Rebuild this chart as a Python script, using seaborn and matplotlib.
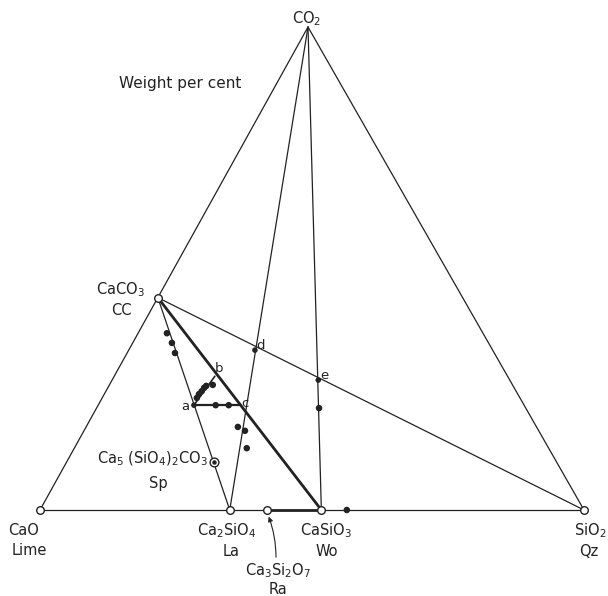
import numpy as np
import pandas as pd
import matplotlib
matplotlib.use("Agg")
import matplotlib.pyplot as plt
import seaborn as sns

# compositions in weight per cent: (CaO, SiO2, CO2)
phase_names = ["CaO", "SiO2", "CaCO3", "Ca2SiO4", "CaSiO3", "Ca3Si2O7"]
phase_cao = [100.0, 0.0, 56.03, 65.12, 48.28, 58.33]
phase_sio2 = [0.0, 100.0, 0.0, 34.88, 51.72, 41.67]
phase_co2 = [0.0, 0.0, 43.97, 0.0, 0.0, 0.0]

spurrite = (63.07, 27.03, 9.90)
co2_apex = (0.0, 0.0, 100.0)

# points a, b, c, d, e
pt_names = ["a", "b", "c", "d", "e"]
pt_cao = [60.7, 53.8, 52.1, 43.7, 35.2]
pt_sio2 = [17.6, 18.5, 26.2, 23.2, 37.9]
pt_co2 = [21.7, 27.7, 21.7, 33.1, 26.9]

# analysed compositions (filled dots)
dot_cao = [59.4, 58.6, 57.8, 57.0, 56.4, 55.1, 56.7, 54.3, 54.9, 54.0, 55.5,
           58.1, 58.2, 58.7, 38.0, 43.6]
dot_sio2 = [17.4, 17.4, 17.6, 17.7, 17.9, 19.0, 21.6, 24.0, 27.9, 29.6, 31.7,
            5.3, 7.2, 8.8, 40.9, 56.4]
dot_co2 = [23.2, 24.0, 24.6, 25.3, 25.7, 25.9, 21.7, 21.7, 17.2, 16.4, 12.8,
           36.6, 34.6, 32.5, 21.1, 0.0]

# corners of the triangle on the page
V_CAO = np.array([40.0, 510.0])
V_SIO2 = np.array([584.0, 510.0])
V_CO2 = np.array([308.0, 27.0])


def tern(cao, sio2, co2):
    cao, sio2, co2 = (np.asarray(v, dtype=float) for v in (cao, sio2, co2))
    tot = cao + sio2 + co2
    xy = (np.multiply.outer(cao / tot, V_CAO) + np.multiply.outer(sio2 / tot, V_SIO2)
          + np.multiply.outer(co2 / tot, V_CO2))
    return xy[..., 0], xy[..., 1]


sns.set_style("white")
plt.rcParams['font.family'] = ['DejaVu Sans']
plt.rcParams['mathtext.default'] = 'regular'

fig = plt.figure(figsize=(6.08, 5.96), dpi=100)
ax = fig.add_axes([0, 0, 1, 1])
ax.set_xlim(0, 608)
ax.set_ylim(596, 0)
ax.axis("off")

ph = pd.DataFrame({"name": phase_names, "cao": phase_cao,
                   "sio2": phase_sio2, "co2": phase_co2}).set_index("name")
pt = pd.DataFrame({"name": pt_names, "cao": pt_cao,
                   "sio2": pt_sio2, "co2": pt_co2}).set_index("name")


def comp(df, key):
    return tuple(df.loc[key, ["cao", "sio2", "co2"]])


def seg(p, q, lw=0.9, zorder=1):
    x, y = tern([p[0], q[0]], [p[1], q[1]], [p[2], q[2]])
    ax.plot(x, y, color="#222222", lw=lw, solid_capstyle="round", zorder=zorder)


# outline
seg(comp(ph, "CaO"), comp(ph, "SiO2"))
seg(comp(ph, "CaO"), co2_apex)
seg(comp(ph, "SiO2"), co2_apex)
# tie lines
seg(comp(ph, "CaCO3"), comp(ph, "SiO2"))
seg(co2_apex, comp(ph, "Ca2SiO4"))
seg(co2_apex, comp(ph, "CaSiO3"))
seg(comp(ph, "CaCO3"), comp(ph, "Ca2SiO4"))
seg(comp(ph, "CaCO3"), comp(ph, "CaSiO3"), lw=2.0)
seg(comp(ph, "Ca3Si2O7"), comp(ph, "CaSiO3"), lw=2.0)
seg(comp(pt, "a"), comp(pt, "c"), lw=1.6)
seg(comp(pt, "a"), comp(pt, "b"), lw=1.2)

# filled dots
dx, dy = tern(dot_cao, dot_sio2, dot_co2)
sns.scatterplot(x=dx, y=dy, ax=ax, s=22, color="#222222", edgecolor="none",
                zorder=3, legend=False)
sel = ["a", "d", "e"]
px, py = tern(pt.loc[sel, "cao"], pt.loc[sel, "sio2"], pt.loc[sel, "co2"])
sns.scatterplot(x=px, y=py, ax=ax, s=16, color="#222222", edgecolor="none",
                zorder=3, legend=False)

# phases (open circles)
hx, hy = tern(ph["cao"], ph["sio2"], ph["co2"])
sns.scatterplot(x=hx, y=hy, ax=ax, s=30, facecolor="white", edgecolor="#222222",
                linewidth=1.0, zorder=4, legend=False)
sx, sy = tern(*spurrite)
ax.scatter([sx], [sy], s=40, facecolor="white", edgecolor="#222222", lw=1.0, zorder=4)
ax.scatter([sx], [sy], s=5, color="#222222", zorder=5)

txt = dict(fontsize=10.5, color="#222222", va="baseline")
ax.text(307, 23.5, "CO$_2$", ha="center", **txt)
ax.text(180, 88, "Weight per cent", ha="center", **dict(txt, fontsize=11))
ax.text(145, 294, "CaCO$_3$", ha="right", **txt)
ax.text(121, 315, "CC", ha="center", **txt)
ax.text(sx - 6, 463, "Ca$_5$ (SiO$_4$)$_2$CO$_3$", ha="right", **txt)
ax.text(158, 488, "Sp", ha="center", **txt)
ax.text(24, 535, "CaO", ha="center", **txt)
ax.text(29, 555, "Lime", ha="center", **txt)
ax.text(227, 535, "Ca$_2$SiO$_4$", ha="center", **txt)
ax.text(231, 556, "La", ha="center", **txt)
ax.text(326, 535, "CaSiO$_3$", ha="center", **txt)
ax.text(327, 556, "Wo", ha="center", **txt)
ax.text(590, 535, "SiO$_2$", ha="center", **txt)
ax.text(589, 556, "Qz", ha="center", **txt)
ax.text(278, 575, "Ca$_3$Si$_2$O$_7$", ha="center", **txt)
ax.text(278.5, 594, "Ra", ha="center", **txt)

# letter labels beside a-e
offsets = {"a": (-9, 1), "b": (4, -8), "c": (4, -2), "d": (6, -5), "e": (6, -5)}
lx, ly = tern(pt["cao"], pt["sio2"], pt["co2"])
for name, x, y in zip(pt.index, lx, ly):
    ox, oy = offsets[name]
    ax.text(x + ox, y + oy, name, ha="center", va="center", fontsize=9.5,
            color="#222222")

# leader for rankinite
rx, ry = tern(*comp(ph, "Ca3Si2O7"))
ax.annotate("", xy=(rx + 1, ry + 4), xytext=(276, 560),
            arrowprops=dict(arrowstyle="-|>", color="#222222", lw=0.8,
                            mutation_scale=7, connectionstyle="arc3,rad=0.1"))

fig.savefig("out.png", dpi=100, facecolor="white")
